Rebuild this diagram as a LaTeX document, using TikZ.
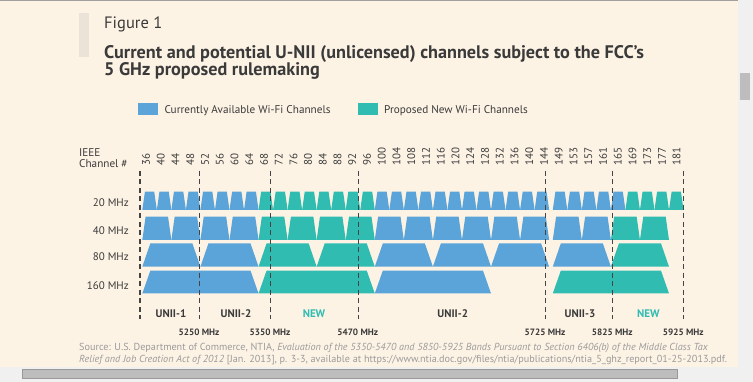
\documentclass[tikz,border=0pt]{standalone}
\usepackage{fontspec}
\setmainfont{PT Sans}
\definecolor{cblue}{HTML}{5BA4DA}
\definecolor{cteal}{HTML}{30BCB1}
\definecolor{cream}{HTML}{FDF3E5}
\definecolor{pagegray}{HTML}{F0F0F0}
\definecolor{thumbgray}{HTML}{BDBDBD}
\definecolor{txt}{HTML}{3A3A3A}
\definecolor{srcgray}{HTML}{9B9B9B}
\definecolor{figbar}{HTML}{EBE3D8}
\definecolor{divgray}{HTML}{444444}
\newcommand\chtrap[6]{%
  \pgfmathsetmacro\trXa{142.3+((#2)-5170)*0.7265}%
  \pgfmathsetmacro\trXb{142.3+((#3)-5170)*0.7265}%
  \fill[#1] (\trXa,#5) -- (\trXb,#5) -- ({\trXb-#6},#4) -- ({\trXa+#6},#4) -- cycle;}
\begin{document}
\begin{tikzpicture}[x=1pt,y=-1pt,
  lbl/.style={inner sep=0pt, text=txt},
  chan/.style={lbl, rotate=90, anchor=west, font=\fontsize{11}{12}\selectfont},
  rowlbl/.style={lbl, anchor=base east, font=\fontsize{11}{12}\selectfont},
  band/.style={lbl, anchor=base, font=\bfseries\fontsize{11}{13}\selectfont},
  freq/.style={lbl, anchor=base, font=\bfseries\fontsize{9.2}{10}\selectfont},
  legtxt/.style={lbl, anchor=base west, font=\fontsize{11.2}{14}\selectfont},
  srctxt/.style={inner sep=0pt, text=srcgray, anchor=base west, font=\fontsize{10.2}{11}\selectfont},
  divider/.style={draw=divgray, line width=1.2pt, dash pattern=on 5pt off 3.5pt},
]
\useasboundingbox (0,0) rectangle (753,382);
% page and scrollbars
\fill[pagegray] (0,0) rectangle (753,382);
\fill[cream] (0,0) rectangle (738,367);
\fill[gray!75] (0,0) rectangle (738,1.5);
\fill[thumbgray] (740,73) rectangle (750,100);
\filldraw[fill=thumbgray, draw=gray!80, line width=0.6pt] (22,369.5) rectangle (677,378);
% heading
\fill[figbar] (79,13) rectangle (89,57);
\node[lbl, anchor=base west, font=\fontsize{16.5}{20}\selectfont] (fig) at (104,29) {Figure 1};
\node[lbl, anchor=base west, font=\bfseries\fontsize{18.2}{20}\selectfont] (title1) at (104,59) {Current and potential U-NII (unlicensed) channels subject to the FCC’s};
\node[lbl, anchor=base west, font=\bfseries\fontsize{18.2}{20}\selectfont] (title2) at (104,75.5) {5 GHz proposed rulemaking};
% legend
\fill[cblue] (137.7,102.7) rectangle (157.7,114.7);
\node[legtxt] (leg1) at (164.3,113.3) {Currently Available Wi-Fi Channels};
\fill[cteal] (357.7,102.7) rectangle (377.7,114.7);
\node[legtxt] (leg2) at (384,113.3) {Proposed New Wi-Fi Channels};
% channel header
\node[lbl, anchor=base west, font=\fontsize{11.2}{13}\selectfont] (ieee1) at (79,156.7) {IEEE};
\node[lbl, anchor=base west, font=\fontsize{11.2}{13}\selectfont] (ieee2) at (79,168) {Channel \#};
\foreach \c [count=\i from 0] in {36,40,44,48,52,56,60,64,68,72,76,80,84,88,92,96,100,104,108,112,116,120,124,128,132,136,140,144,149,153,157,161,165,169,173,177,181}
  \node[chan] (ch\c) at ({146+14.74*\i},166) {\c};
% row labels
\node[rowlbl] (r20) at (129,206.7) {20 MHz};
\node[rowlbl] (r40) at (129,234.3) {40 MHz};
\node[rowlbl] (r80) at (129,261) {80 MHz};
\node[rowlbl] (r160) at (129,289.3) {160 MHz};
% 20 MHz
\foreach \c in {36,40,...,64,100,104,...,144,149,153,...,165}
  {\chtrap{cblue}{5000+5*\c-10}{5000+5*\c+10}{191.7}{210}{2.6}}
\foreach \c in {68,72,...,96,169,173,...,181}
  {\chtrap{cteal}{5000+5*\c-10}{5000+5*\c+10}{191.7}{210}{2.6}}
% 40 MHz
\foreach \c in {38,46,54,62,102,110,...,142,151,159}
  {\chtrap{cblue}{5000+5*\c-20}{5000+5*\c+20}{216.7}{240}{3.3}}
\foreach \c in {70,78,86,94,167,175}
  {\chtrap{cteal}{5000+5*\c-20}{5000+5*\c+20}{216.7}{240}{3.3}}
% 80 MHz
\foreach \c in {42,58,106,122,138,155}
  {\chtrap{cblue}{5000+5*\c-40}{5000+5*\c+40}{243.5}{266.7}{8}}
\foreach \c in {74,90,171}
  {\chtrap{cteal}{5000+5*\c-40}{5000+5*\c+40}{243.5}{266.7}{8}}
% 160 MHz
\foreach \c in {50,114}
  {\chtrap{cblue}{5000+5*\c-80}{5000+5*\c+80}{270.7}{293.5}{8}}
\foreach \c in {82,163}
  {\chtrap{cteal}{5000+5*\c-80}{5000+5*\c+80}{270.7}{293.5}{8}}
% band dividers
\foreach \x [count=\k] in {140,199.5,270.5,358.3,545.3,612.7,683.7}{
  \coordinate (dt\k) at (\x,170.7);
  \coordinate (db\k) at (\x,319);
  \draw[divider] (dt\k) -- (db\k);
}
% band names
\node[band] (b1) at (171,317.3) {UNII-1};
\node[band] (b2) at (236,317.3) {UNII-2};
\node[band, text=cteal] (b3) at (314,317.3) {NEW};
\node[band] (b4) at (452.7,317.3) {UNII-2};
\node[band] (b5) at (580,317.3) {UNII-3};
\node[band, text=cteal] (b6) at (648.3,317.3) {NEW};
% frequencies
\node[freq] (f1) at (199,335.3) {5250 MHz};
\node[freq] (f2) at (270,335.3) {5350 MHz};
\node[freq] (f3) at (357.7,335.3) {5470 MHz};
\node[freq] (f4) at (545,335.3) {5725 MHz};
\node[freq] (f5) at (612.3,335.3) {5825 MHz};
\node[freq] (f6) at (683.3,335.3) {5925 MHz};
% source
\node[srctxt] (src1) at (79,351) {Source: U.S. Department of Commerce, NTIA, \textit{Evaluation of the 5350-5470 and 5850-5925 Bands Pursuant to Section 6406(b) of the Middle Class Tax}};
\node[srctxt] (src2) at (79,362.7) {\textit{Relief and Job Creation Act of 2012} [Jan. 2013], p. 3-3, available at https://www.ntia.doc.gov/files/ntia/publications/ntia\_5\_ghz\_report\_01-25-2013.pdf.};
\end{tikzpicture}
\end{document}
